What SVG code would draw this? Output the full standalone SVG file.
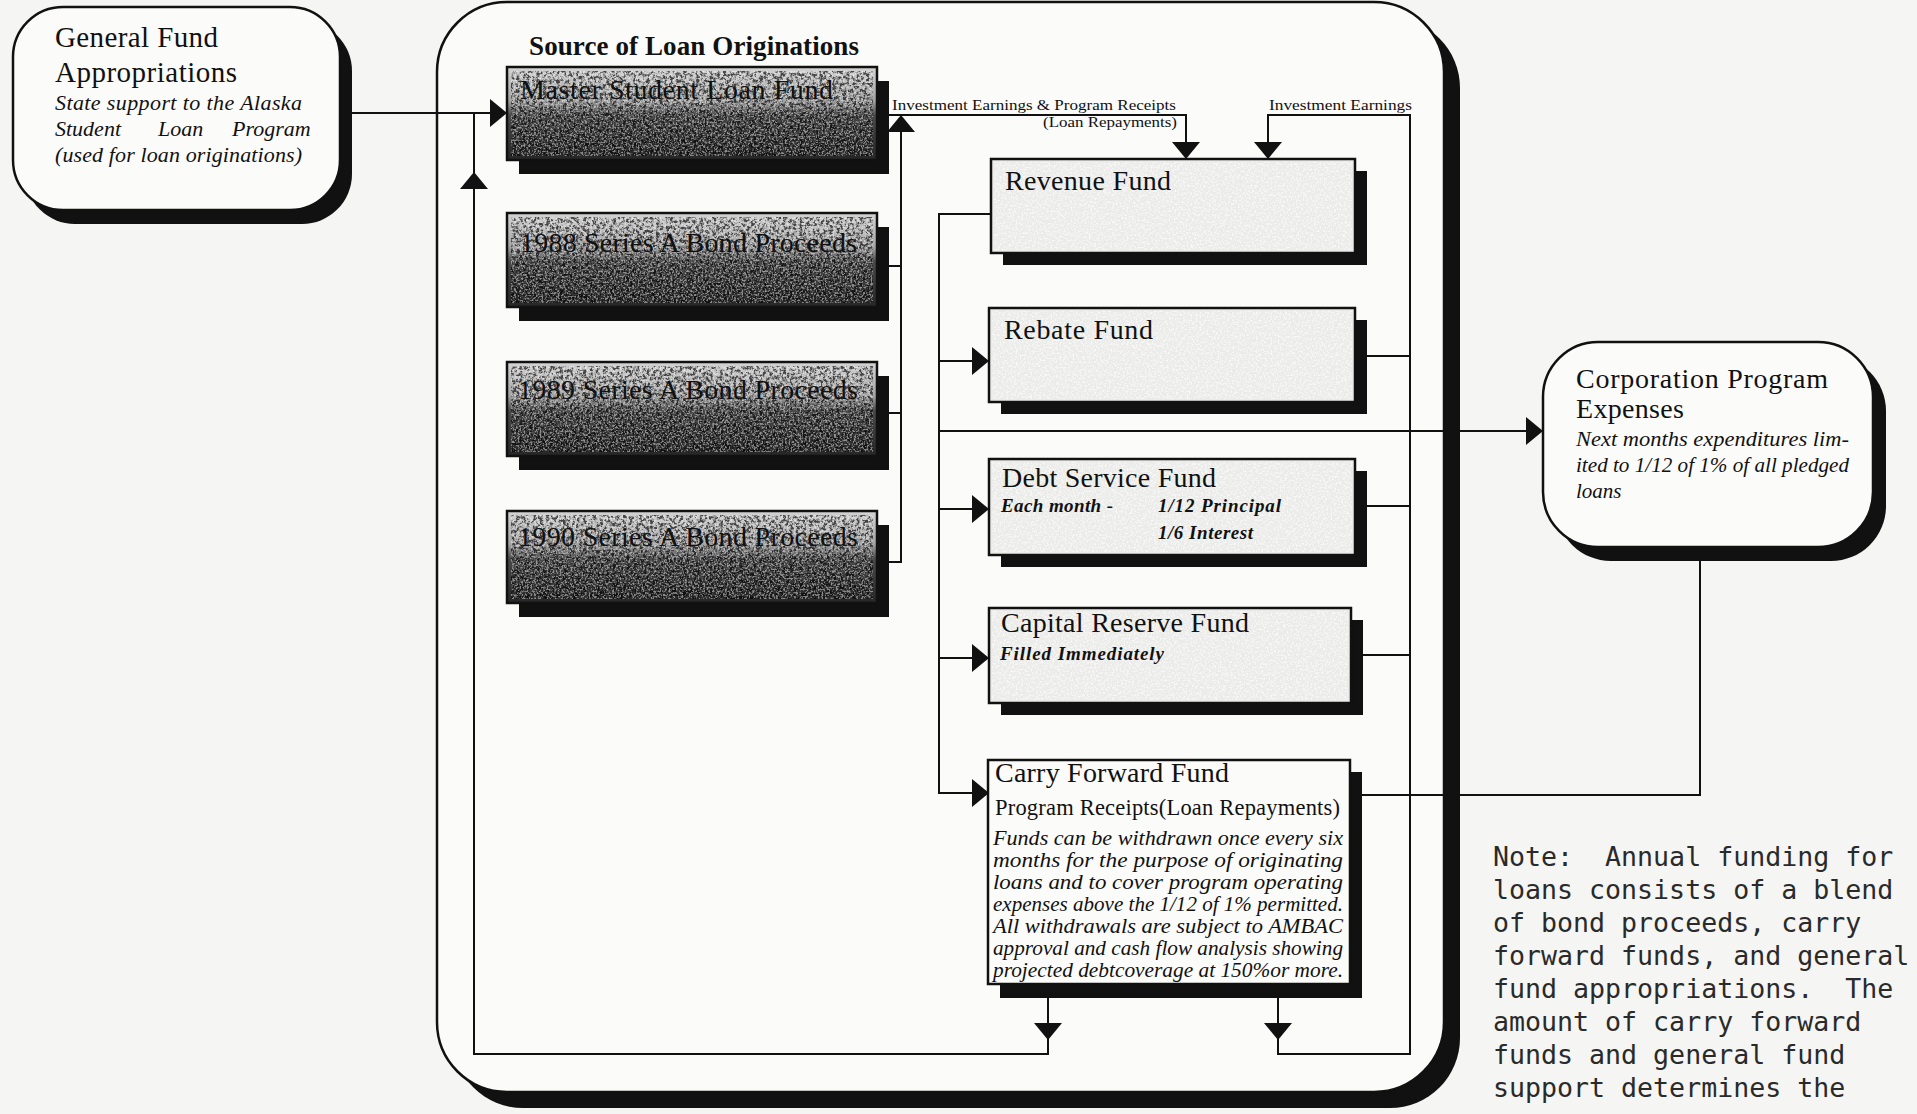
<svg xmlns="http://www.w3.org/2000/svg" width="1917" height="1114" viewBox="0 0 1917 1114">
<defs>
<style>
.ln{fill:none;stroke:#111;stroke-width:2}
.shadow{fill:#111}
.rbox{fill:#fbfbfa;stroke:#111;stroke-width:2.5}
.bond{fill:url(#bondFill);stroke:#111;stroke-width:2.5}
.fund{fill:#ebebe9;stroke:#111;stroke-width:2.5}
.ah{fill:#111}
.t{font-family:"Liberation Serif","Times New Roman",serif;fill:#111}
.h{font-size:28px}
.i{font-style:italic}
.lab{font-size:15px}
.note{font-family:"DejaVu Sans Mono","Liberation Mono",monospace;font-size:26.6px;fill:#2a2a2a;white-space:pre}
</style>
<linearGradient id="bondFill" x1="0" y1="0" x2="0" y2="1">
<stop offset="0" stop-color="#d4d4d4"/>
<stop offset="0.36" stop-color="#a4a4a4"/>
<stop offset="0.52" stop-color="#4a4a4a"/>
<stop offset="1" stop-color="#262626"/>
</linearGradient>
<filter id="darkGrain" x="0" y="0" width="1" height="1">
<feTurbulence type="fractalNoise" baseFrequency="0.3" numOctaves="3" seed="4"/>
<feColorMatrix type="matrix" values="0 0 0 0 0  0 0 0 0 0  0 0 0 0 0  0 0 0 6 -2.7"/>
</filter>
<filter id="lightGrain" x="0" y="0" width="1" height="1">
<feTurbulence type="fractalNoise" baseFrequency="0.55" numOctaves="2" seed="11"/>
<feColorMatrix type="matrix" values="0 0 0 0 1  0 0 0 0 1  0 0 0 0 1  0 0 0 6 -2.9"/>
</filter>
<path id="ah" d="M0,0 L-17,-14 L-17,14 Z"/>
</defs>

<rect x="0" y="0" width="1917" height="1114" fill="#f5f5f3"/>

<g id="general-fund-appropriations">
<rect class="shadow" x="25" y="21" width="327" height="203" rx="50"/>
<rect class="rbox" x="13" y="7" width="327" height="203" rx="50"/>
<text class="t" font-size="29" x="55" y="47" textLength="163">General Fund</text>
<text class="t" font-size="29" x="55" y="82" textLength="182">Appropriations</text>
<text class="t i" font-size="22" x="55" y="110" textLength="247">State support to the Alaska</text>
<text class="t i" font-size="22" y="136"><tspan x="55">Student</tspan><tspan x="158">Loan</tspan><tspan x="232">Program</tspan></text>
<text class="t i" font-size="22" x="55" y="162" textLength="247">(used for loan originations)</text>
</g>

<g id="loan-program-frame">
<rect class="shadow" x="453" y="18" width="1007" height="1090" rx="70"/>
<rect class="rbox" x="437" y="2" width="1007" height="1090" rx="70"/>
<text class="t" font-weight="bold" font-size="27" x="529" y="55" textLength="330">Source of Loan Originations</text>
</g>

<g id="master-student-loan-fund">
<rect class="shadow" x="519" y="81" width="370" height="93"/>
<rect class="bond" x="507" y="67" width="370" height="93"/>
<rect x="511" y="71" width="362" height="85" filter="url(#darkGrain)" opacity="0.65"/>
<rect x="511" y="71" width="362" height="85" filter="url(#lightGrain)" opacity="0.45"/>
<text class="t h" x="520" y="99" textLength="313">Master Student Loan Fund</text>
</g>

<g id="bond-1988">
<rect class="shadow" x="519" y="227" width="370" height="94"/>
<rect class="bond" x="507" y="213" width="370" height="94"/>
<rect x="511" y="217" width="362" height="86" filter="url(#darkGrain)" opacity="0.65"/>
<rect x="511" y="217" width="362" height="86" filter="url(#lightGrain)" opacity="0.45"/>
<text class="t h" x="520" y="252" textLength="337">1988 Series A Bond Proceeds</text>
</g>

<g id="bond-1989">
<rect class="shadow" x="519" y="376" width="370" height="94"/>
<rect class="bond" x="507" y="362" width="370" height="94"/>
<rect x="511" y="366" width="362" height="86" filter="url(#darkGrain)" opacity="0.65"/>
<rect x="511" y="366" width="362" height="86" filter="url(#lightGrain)" opacity="0.45"/>
<text class="t h" x="518" y="399" textLength="340">1989 Series A Bond Proceeds</text>
</g>

<g id="bond-1990">
<rect class="shadow" x="519" y="525" width="370" height="92"/>
<rect class="bond" x="507" y="511" width="370" height="92"/>
<rect x="511" y="515" width="362" height="84" filter="url(#darkGrain)" opacity="0.65"/>
<rect x="511" y="515" width="362" height="84" filter="url(#lightGrain)" opacity="0.45"/>
<text class="t h" x="518" y="546" textLength="340">1990 Series A Bond Proceeds</text>
</g>

<g id="revenue-fund">
<rect class="shadow" x="1003" y="171" width="364" height="94"/>
<rect class="fund" x="991" y="159" width="364" height="94"/>
<rect x="994" y="162" width="358" height="88" filter="url(#lightGrain)" opacity="0.6"/>
<text class="t" font-size="28" x="1005" y="190" textLength="166">Revenue Fund</text>
</g>

<g id="rebate-fund">
<rect class="shadow" x="1001" y="320" width="366" height="94"/>
<rect class="fund" x="989" y="308" width="366" height="94"/>
<rect x="992" y="311" width="360" height="88" filter="url(#lightGrain)" opacity="0.6"/>
<text class="t" font-size="28" x="1004" y="339" textLength="149">Rebate Fund</text>
</g>

<g id="debt-service-fund">
<rect class="shadow" x="1001" y="471" width="366" height="96"/>
<rect class="fund" x="989" y="459" width="366" height="96"/>
<rect x="992" y="462" width="360" height="90" filter="url(#lightGrain)" opacity="0.6"/>
<text class="t" font-size="28" x="1002" y="487" textLength="214">Debt Service Fund</text>
<text class="t i" font-weight="bold" font-size="19" x="1001" y="512" textLength="112">Each month -</text>
<text class="t i" font-weight="bold" font-size="19" x="1158" y="512" textLength="123">1/12 Principal</text>
<text class="t i" font-weight="bold" font-size="19" x="1158" y="539" textLength="95">1/6 Interest</text>
</g>

<g id="capital-reserve-fund">
<rect class="shadow" x="1001" y="620" width="362" height="95"/>
<rect class="fund" x="989" y="608" width="362" height="95"/>
<rect x="992" y="611" width="356" height="89" filter="url(#lightGrain)" opacity="0.6"/>
<text class="t" font-size="28" x="1001" y="632" textLength="248">Capital Reserve Fund</text>
<text class="t i" font-weight="bold" font-size="19" x="1000" y="660" textLength="164">Filled Immediately</text>
</g>

<g id="carry-forward-fund">
<rect class="shadow" x="1000" y="772" width="362" height="226"/>
<rect class="rbox" x="988" y="760" width="362" height="224"/>
<text class="t" font-size="28" x="995" y="782" textLength="234">Carry Forward Fund</text>
<text class="t" font-size="22.5" x="995" y="815" textLength="345">Program Receipts(Loan Repayments)</text>
<g class="t i" font-size="21">
<text x="993" y="845" textLength="350" lengthAdjust="spacingAndGlyphs">Funds can be withdrawn once every six</text>
<text x="993" y="867" textLength="350" lengthAdjust="spacingAndGlyphs">months for the purpose of originating</text>
<text x="993" y="889" textLength="350" lengthAdjust="spacingAndGlyphs">loans and to cover program operating</text>
<text x="993" y="911" textLength="350" lengthAdjust="spacingAndGlyphs">expenses above the 1/12 of 1% permitted.</text>
<text x="993" y="933" textLength="350" lengthAdjust="spacingAndGlyphs">All withdrawals are subject to AMBAC</text>
<text x="993" y="955" textLength="350" lengthAdjust="spacingAndGlyphs">approval and cash flow analysis showing</text>
<text x="993" y="977" textLength="350" lengthAdjust="spacingAndGlyphs">projected debtcoverage at 150%or more.</text>
</g>
</g>

<g id="corporation-program-expenses">
<rect class="shadow" x="1556" y="356" width="330" height="205" rx="55"/>
<rect class="rbox" x="1543" y="342" width="330" height="205" rx="55"/>
<text class="t h" x="1576" y="388" textLength="252">Corporation Program</text>
<text class="t h" x="1576" y="418" textLength="108">Expenses</text>
<text class="t i" font-size="21" x="1576" y="446" textLength="273" lengthAdjust="spacingAndGlyphs">Next months expenditures lim-</text>
<text class="t i" font-size="21" x="1576" y="472" textLength="273" lengthAdjust="spacingAndGlyphs">ited to 1/12 of 1% of all pledged</text>
<text class="t i" font-size="21" x="1576" y="498">loans</text>
</g>

<g id="note">
<text class="note" x="1493" y="866">Note:  Annual funding for</text>
<text class="note" x="1493" y="899">loans consists of a blend</text>
<text class="note" x="1493" y="932">of bond proceeds, carry</text>
<text class="note" x="1493" y="965">forward funds, and general</text>
<text class="note" x="1493" y="998">fund appropriations.  The</text>
<text class="note" x="1493" y="1031">amount of carry forward</text>
<text class="note" x="1493" y="1064">funds and general fund</text>
<text class="note" x="1493" y="1097">support determines the</text>
</g>

<g id="connectors">
<path class="ln" d="M352,113 H500"/>
<use href="#ah" class="ah" transform="translate(507,113)"/>
<path class="ln" d="M1048,998 V1054 H474 V113"/>
<use href="#ah" class="ah" transform="translate(1048,1040) rotate(90)"/>
<use href="#ah" class="ah" transform="translate(474,172) rotate(-90)"/>
<path class="ln" d="M1278,998 V1054 H1410 V115 H1268 V150"/>
<use href="#ah" class="ah" transform="translate(1278,1040) rotate(90)"/>
<use href="#ah" class="ah" transform="translate(1268,159) rotate(90)"/>
<path class="ln" d="M889,266 H901 M889,413 H901 M889,562 H901 V120"/>
<use href="#ah" class="ah" transform="translate(901,115) rotate(-90)"/>
<path class="ln" d="M889,115 H1186 V150"/>
<use href="#ah" class="ah" transform="translate(1186,159) rotate(90)"/>
<text class="t lab" x="892" y="110" textLength="284" lengthAdjust="spacingAndGlyphs">Investment Earnings &amp; Program Receipts</text>
<text class="t lab" x="1043" y="127" textLength="134" lengthAdjust="spacingAndGlyphs">(Loan Repayments)</text>
<text class="t lab" x="1269" y="110" textLength="143" lengthAdjust="spacingAndGlyphs">Investment Earnings</text>
<path class="ln" d="M991,214 H939 V793 H980 M939,361 H980 M939,509 H980 M939,658 H980 M939,431 H1533"/>
<use href="#ah" class="ah" transform="translate(989,793)"/>
<use href="#ah" class="ah" transform="translate(989,361)"/>
<use href="#ah" class="ah" transform="translate(989,509)"/>
<use href="#ah" class="ah" transform="translate(989,658)"/>
<use href="#ah" class="ah" transform="translate(1543,431)"/>
<path class="ln" d="M1367,356 H1410 M1367,506 H1410 M1363,655 H1410 M1362,795 H1700 V561"/>
</g>
</svg>
